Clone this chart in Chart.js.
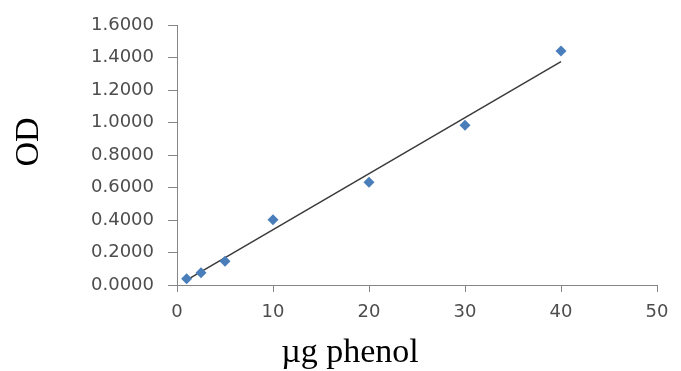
<!DOCTYPE html>
<html>
<head>
<meta charset="utf-8">
<script src="https://cdn.jsdelivr.net/npm/chart.js@4"></script>
<style>
  html, body { margin: 0; padding: 0; background: #ffffff; }
  #wrap { position: relative; width: 681px; height: 371px; }
</style>
</head>
<body>
<div id="wrap"><canvas id="c" width="681" height="371"></canvas></div>
<script>
// ---- data ----
const phenolUg = [1, 2.5, 5, 10, 20, 30, 40];
const odValues = [0.038, 0.075, 0.146, 0.402, 0.632, 0.983, 1.44];
// linear trendline endpoints (as drawn in the reference)
const trendX = [1, 40];
const trendY = [0.03, 1.374];
const xTitle = 'µg phenol';
const yTitle = 'OD';

const titlePlugin = {
  id: 'axisTitles',
  afterDraw(chart) {
    const ctx = chart.ctx;
    ctx.save();
    ctx.fillStyle = '#000000';
    ctx.font = '34px "Liberation Serif", "Times New Roman", serif';
    ctx.textAlign = 'center';
    ctx.textBaseline = 'alphabetic';
    ctx.fillText(xTitle, 350, 362);
    ctx.translate(38, 142);
    ctx.rotate(-Math.PI / 2);
    ctx.fillText(yTitle, 0, 0);
    ctx.restore();
  }
};

const tickFont = { family: '"DejaVu Sans", sans-serif', size: 18 };
const axisGrey = '#868686';

new Chart(document.getElementById('c'), {
  type: 'scatter',
  data: {
    datasets: [
      {
        label: 'OD',
        data: phenolUg.map((x, i) => ({ x: x, y: odValues[i] })),
        pointStyle: 'rectRot',
        pointRadius: 5.5,
        pointBorderWidth: 0,
        pointBackgroundColor: '#4A7EBB',
        pointBorderColor: '#4A7EBB',
        showLine: false,
        order: 1
      },
      {
        label: 'Linear',
        data: trendX.map((x, i) => ({ x: x, y: trendY[i] })),
        showLine: true,
        borderColor: '#3a3a3a',
        borderWidth: 1.5,
        pointRadius: 0,
        fill: false,
        order: 2
      }
    ]
  },
  options: {
    responsive: false,
    animation: false,
    devicePixelRatio: 1,
    layout: { padding: { top: 25, right: 24, left: 0, bottom: 0 } },
    plugins: {
      legend: { display: false },
      tooltip: { enabled: false }
    },
    scales: {
      x: {
        type: 'linear',
        min: 0, max: 50,
        afterFit(scale) { scale.height = 86; },
        border: { color: axisGrey, width: 1 },
        grid: { drawOnChartArea: false, drawTicks: true, tickLength: 7, color: axisGrey },
        ticks: { stepSize: 10, color: '#4d4d4d', font: tickFont, padding: 10 }
      },
      y: {
        type: 'linear',
        min: 0, max: 1.6,
        afterFit(scale) { scale.width = 177; },
        border: { color: axisGrey, width: 1 },
        grid: { drawOnChartArea: false, drawTicks: true, tickLength: 9, color: axisGrey },
        ticks: {
          stepSize: 0.2, color: '#4d4d4d', font: tickFont, padding: 14,
          callback: (v) => Number(v).toFixed(4)
        }
      }
    }
  },
  plugins: [titlePlugin]
});
</script>
</body>
</html>
